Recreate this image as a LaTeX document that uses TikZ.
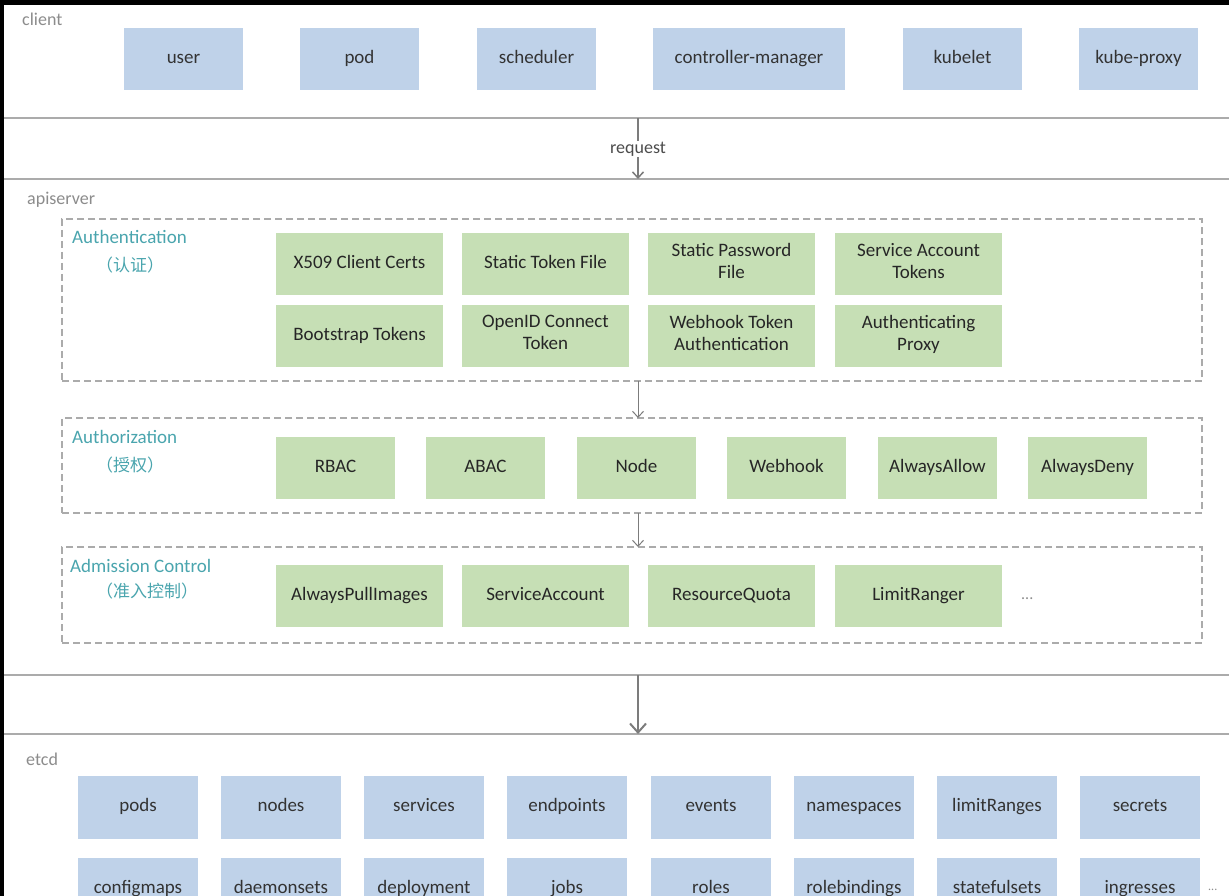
\documentclass[tikz,border=0pt]{standalone}
\usepackage{fontspec}
\setmainfont{Carlito}
\newfontfamily\cjk{Noto Sans CJK SC}
\usetikzlibrary{arrows.meta}
\definecolor{boxblue}{HTML}{BFD2E9}
\definecolor{boxgreen}{HTML}{C6DFB5}
\definecolor{txtdark}{HTML}{333333}
\definecolor{lblgray}{HTML}{8C8C8C}
\definecolor{teal}{HTML}{4AA5AE}
\definecolor{linegray}{HTML}{ABABAB}
\definecolor{arrgray}{HTML}{7C7C7C}
\begin{document}
\begin{tikzpicture}[x=1pt,y=-1pt,
  base/.style={draw=none, inner sep=0pt, outer sep=0pt, anchor=north west, align=center,
    text=txtdark, font=\fontsize{19}{22}\selectfont,
    execute at begin node=\strut, execute at end node=\strut},
  bluebox/.style={base, fill=boxblue, minimum width=119pt, minimum height=62pt},
  greenbox/.style={base, fill=boxgreen, minimum width=167pt, minimum height=62pt, text=black!85},
  smallgreen/.style={greenbox, minimum width=119pt},
  etcdbox/.style={bluebox, minimum width=120pt, minimum height=63pt},
  secttitle/.style={anchor=west, inner sep=0pt, text=lblgray, font=\fontsize{18}{20}\selectfont},
  steptitle/.style={anchor=west, inner sep=0pt, text=teal, font=\fontsize{19}{21}\selectfont},
  cntitle/.style={anchor=west, inner sep=0pt, text=teal, font=\cjk\fontsize{17}{19}\selectfont},
  dashbox/.style={draw=linegray, line width=1.1pt, dash pattern=on 7pt off 4pt, anchor=north west,
    inner sep=0pt, outer sep=0pt},
  hline/.style={draw=linegray, line width=2.5pt},
  smallarr/.style={draw=arrgray, line width=1pt, -{Straight Barb[length=6pt,width=11pt]}},
  bigarr/.style={draw=arrgray, line width=2pt, -{Straight Barb[length=9pt,width=16pt]}},
]
\useasboundingbox (0,0) rectangle (1229,896);
\clip (0,0) rectangle (1229,896);
\fill[black] (0,0) rectangle (1229,896);
\fill[white] (4,5) rectangle (1229,896);

% client
\node[secttitle] (client) at (22,19) {client};
\node[bluebox] (user) at (124,28) {user};
\node[bluebox] (pod) at (300,28) {pod};
\node[bluebox] (sched) at (477,28) {scheduler};
\node[bluebox, minimum width=192pt] (cm) at (653,28) {controller-manager};
\node[bluebox] (kubelet) at (903,28) {kubelet};
\node[bluebox] (kproxy) at (1079,28) {kube-proxy};

\draw[hline] (4,118) -- (1229,118);
\draw[hline] (4,179) -- (1229,179);
\coordinate (rtop) at (638,118);
\coordinate (rbot) at (638,179);
\node[inner sep=1pt, text=black!70, font=\fontsize{18}{20}\selectfont] (req) at (638,149) {request};
\draw[arrgray, line width=1.5pt] (rtop) -- (req.north);
\draw[smallarr, line width=1.5pt] (req.south) -- (rbot);

% apiserver
\node[secttitle] (api) at (27,200) {apiserver};

\node[dashbox, minimum width=1140pt, minimum height=162pt] (auth) at (62,219) {};
\node[steptitle] (authT) at (72,237) {Authentication};
\node[cntitle] (authC) at (96,265) {（认证）};
\node[greenbox] (x509) at (276,233) {X509 Client Certs};
\node[greenbox] (stf) at (462,233) {Static Token File};
\node[greenbox] (spf) at (648,233) {Static Password\\File};
\node[greenbox] (sat) at (835,233) {Service Account\\Tokens};
\node[greenbox] (boot) at (276,305) {Bootstrap Tokens};
\node[greenbox] (oidc) at (462,305) {OpenID Connect\\Token};
\node[greenbox] (wta) at (648,305) {Webhook Token\\Authentication};
\node[greenbox] (ap) at (835,305) {Authenticating\\Proxy};

\node[dashbox, minimum width=1140pt, minimum height=95pt] (authz) at (62,418) {};
\node[steptitle] (authzT) at (72,437) {Authorization};
\node[cntitle] (authzC) at (96,465) {（授权）};
\node[smallgreen] (rbac) at (276,437) {RBAC};
\node[smallgreen] (abac) at (426,437) {ABAC};
\node[smallgreen] (node) at (577,437) {Node};
\node[smallgreen] (webhook) at (727,437) {Webhook};
\node[smallgreen] (allow) at (878,437) {AlwaysAllow};
\node[smallgreen] (deny) at (1028,437) {AlwaysDeny};

\node[dashbox, minimum width=1140pt, minimum height=96pt] (adm) at (62,547) {};
\node[steptitle] (admT) at (70,566) {Admission Control};
\node[cntitle] (admC) at (96,591) {（准入控制）};
\node[greenbox] (api1) at (276,565) {AlwaysPullImages};
\node[greenbox] (sa) at (462,565) {ServiceAccount};
\node[greenbox] (rq) at (648,565) {ResourceQuota};
\node[greenbox] (lr) at (835,565) {LimitRanger};
\node[anchor=west, inner sep=0pt, text=lblgray, font=\fontsize{16}{18}\selectfont] (admdots) at (1021,599) {...};

\draw[smallarr] (auth.south -| req) -- (authz.north -| req);
\draw[smallarr] (authz.south -| req) -- (adm.north -| req);

\draw[hline] (4,675) -- (1229,675);
\draw[hline] (4,734) -- (1229,734);
\coordinate (etop) at (638,675);
\coordinate (ebot) at (638,734);
\draw[bigarr] (etop) -- (ebot);

% etcd
\node[secttitle] (etcd) at (26,759) {etcd};
\node[etcdbox] (pods) at (78,776) {pods};
\node[etcdbox] (nodes) at (221,776) {nodes};
\node[etcdbox] (services) at (364,776) {services};
\node[etcdbox] (endpoints) at (507,776) {endpoints};
\node[etcdbox] (events) at (651,776) {events};
\node[etcdbox] (ns) at (794,776) {namespaces};
\node[etcdbox] (lrs) at (937,776) {limitRanges};
\node[etcdbox] (secrets) at (1080,776) {secrets};
\node[etcdbox] (cms) at (78,858) {configmaps};
\node[etcdbox] (ds) at (221,858) {daemonsets};
\node[etcdbox] (deploy) at (364,858) {deployment};
\node[etcdbox] (jobs) at (507,858) {jobs};
\node[etcdbox] (roles) at (651,858) {roles};
\node[etcdbox] (rb) at (794,858) {rolebindings};
\node[etcdbox] (sts) at (937,858) {statefulsets};
\node[etcdbox] (ing) at (1080,858) {ingresses};
\node[anchor=west, inner sep=0pt, text=lblgray, font=\fontsize{12}{14}\selectfont] (etcddots) at (1208,890) {...};
\end{tikzpicture}
\end{document}
